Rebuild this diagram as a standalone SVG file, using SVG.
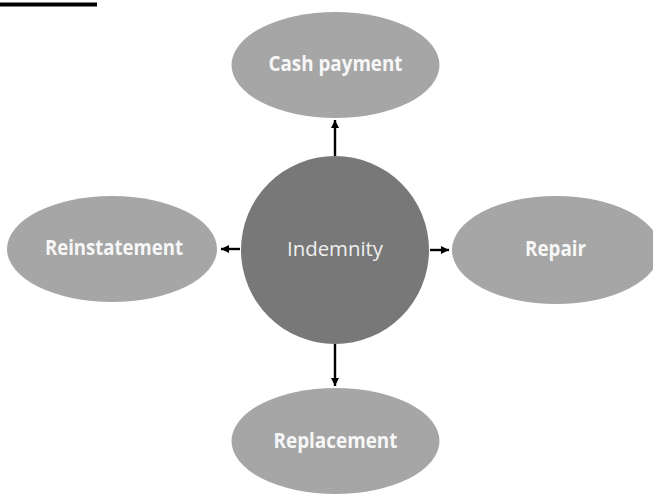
<svg xmlns="http://www.w3.org/2000/svg" width="653" height="500" viewBox="0 0 653 500">
  <defs>
    <marker id="ah" viewBox="0 0 10 10" refX="10" refY="5" markerWidth="8" markerHeight="8" markerUnits="userSpaceOnUse" orient="auto">
      <path d="M0,0 L10,5 L0,10 Z" fill="#000"/>
    </marker>
    <style>
      .leaf { fill: #a6a6a6; }
      .hub { fill: #787878; }
      .lt { font-family: "Open Sans", Lato, "DejaVu Sans", sans-serif; font-weight: bold; font-size: 20.5px; fill: #f7f7f7; text-anchor: middle; }
      .ht { font-family: "Open Sans", "DejaVu Sans", sans-serif; font-size: 20.5px; fill: #efefef; text-anchor: middle; }
      .conn { stroke: #000; stroke-width: 2.4; fill: none; marker-end: url(#ah); }
    </style>
  </defs>
  <rect width="653" height="500" fill="#fff"/>
  <rect x="0" y="2.5" width="97" height="4" fill="#000"/>

  <g id="connectors">
    <line class="conn" x1="335" y1="156" x2="335" y2="120"/>
    <line class="conn" x1="335" y1="344" x2="335" y2="386"/>
    <line class="conn" x1="240" y1="249" x2="221" y2="249"/>
    <line class="conn" x1="430" y1="250" x2="449" y2="250"/>
  </g>

  <g id="indemnity">
    <circle class="hub" cx="335" cy="250" r="94"/>
    <text class="ht" x="335" y="256" textLength="96" lengthAdjust="spacingAndGlyphs">Indemnity</text>
  </g>
  <g id="cash-payment">
    <ellipse class="leaf" cx="335.5" cy="65" rx="104" ry="53"/>
    <text class="lt" x="335.5" y="71" textLength="134" lengthAdjust="spacingAndGlyphs">Cash payment</text>
  </g>
  <g id="replacement">
    <ellipse class="leaf" cx="335.5" cy="441" rx="104" ry="53"/>
    <text class="lt" x="335.5" y="448" textLength="124" lengthAdjust="spacingAndGlyphs">Replacement</text>
  </g>
  <g id="reinstatement">
    <ellipse class="leaf" cx="112" cy="249" rx="105" ry="53"/>
    <text class="lt" x="114" y="255" textLength="138" lengthAdjust="spacingAndGlyphs">Reinstatement</text>
  </g>
  <g id="repair">
    <ellipse class="leaf" cx="556" cy="250" rx="104" ry="54"/>
    <text class="lt" x="555.5" y="256" textLength="61" lengthAdjust="spacingAndGlyphs">Repair</text>
  </g>
</svg>
